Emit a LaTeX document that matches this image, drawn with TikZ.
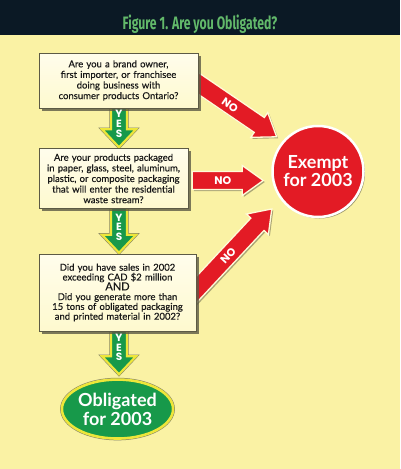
\documentclass[tikz,border=0pt]{standalone}
\usepackage{fontspec}
\setmainfont{Lato}
\newfontfamily\boxfont[FakeBold=0.35]{Lato}
\newfontfamily\titlefont[FakeStretch=0.68]{Fira Sans}
\newfontfamily\arrowfont{Poppins}
\usetikzlibrary{positioning,calc,shadows,shapes.geometric}
\definecolor{obPaper}{HTML}{FAF2A4}
\definecolor{obNight}{HTML}{0B1925}
\definecolor{obTitle}{HTML}{62B86A}
\definecolor{obCream}{HTML}{FFFBD9}
\definecolor{obRed}{HTML}{E31B25}
\definecolor{obGreen}{HTML}{17994A}
\definecolor{obLemon}{HTML}{EDE63A}
\definecolor{obEdge}{HTML}{5C5A45}
\pgfdeclarelayer{back}
\pgfsetlayers{back,main}
% fat arrow outline: #1 half shaft, #2 half head, #3 head length
\newcommand{\fatpath}[3]{($(\tikztostart)!#1pt!90:(\tikztotarget)$)
  -- ($(\tikztotarget)!{sqrt(#3*#3+#1*#1)*1pt}!{-atan(#1/#3)}:(\tikztostart)$)
  -- ($(\tikztotarget)!{sqrt(#3*#3+#2*#2)*1pt}!{-atan(#2/#3)}:(\tikztostart)$)
  -- (\tikztotarget)
  -- ($(\tikztotarget)!{sqrt(#3*#3+#2*#2)*1pt}!{atan(#2/#3)}:(\tikztostart)$)
  -- ($(\tikztotarget)!{sqrt(#3*#3+#1*#1)*1pt}!{atan(#1/#3)}:(\tikztostart)$)
  -- ($(\tikztostart)!#1pt!-90:(\tikztotarget)$) -- cycle}
\tikzset{
    qbox/.style={draw=obEdge, line width=0.5pt, top color=obCream!50!white, bottom color=obCream!80!obPaper, align=center, inner xsep=3pt, inner ysep=3pt, text=black!90, font=\boxfont\fontsize{9.5}{10.6}\selectfont, drop shadow={shadow xshift=2.5pt, shadow yshift=-2.5pt, fill=obEdge, opacity=0.8}},
    noarrow/.style={draw=obCream, line width=1.3pt, fill=obRed, to path={\fatpath{9}{15}{21}}, drop shadow={shadow xshift=1.5pt, shadow yshift=-1.5pt, fill=obEdge, opacity=0.5}},
    yesarrow/.style={draw=obLemon, line width=2.2pt, fill=obGreen, preaction={draw=obEdge!80, line width=3.2pt}, to path={\fatpath{8}{17}{18}}},
    notext/.style={text=white, font=\arrowfont\bfseries\fontsize{11}{11}\selectfont, sloped, inner sep=0pt},
    yestext/.style={text=white, font=\arrowfont\bfseries\fontsize{10.5}{9.8}\selectfont, align=center, inner sep=0pt},
    exempt/.style={circle, fill=obRed, draw=white, line width=2.5pt, minimum size=91pt, text=white, align=center, font=\bfseries\fontsize{18}{18}\selectfont, drop shadow={shadow xshift=1.5pt, shadow yshift=-1.5pt, fill=obEdge, opacity=0.6}},
    oblig/.style={ellipse, fill=obGreen, draw=obLemon, line width=2.6pt, preaction={draw=obEdge!80, line width=3.6pt}, minimum width=101pt, minimum height=59pt, inner sep=0pt, text=white, align=center, font=\bfseries\fontsize{18}{19}\selectfont}
}
\begin{document}
\begin{tikzpicture}[x=1pt, y=-1pt]
\useasboundingbox (0,0) rectangle (400,469);
\begin{pgfonlayer}{back}
    \fill[obPaper] (0,0) rectangle (400,469);
\end{pgfonlayer}
\fill[obNight] (0,0) rectangle (400,35);
\node[text=obTitle, font=\titlefont\bfseries\fontsize{18}{18}\selectfont] (title) at (200,24) {Figure 1. Are you Obligated?};

\node[qbox, text width=153pt, minimum height=55pt] (q1) at (118.5,80.5) {Are you a brand owner,\\first importer, or franchisee\\doing business with\\consumer products Ontario?};
\node[qbox, text width=143pt, minimum height=60pt, below=40pt of q1.south west, anchor=north west] (q2) {Are your products packaged\\in paper, glass, steel, aluminum,\\plastic, or composite packaging\\that will enter the residential\\waste stream?};
\node[qbox, text width=151pt, minimum height=77pt, font=\boxfont\fontsize{9.5}{9.8}\selectfont, below=45pt of q2.south west, anchor=north west] (q3) {Did you have sales in 2002\\exceeding CAD \$2 million\\{\fontsize{11}{10}\selectfont AND}\\Did you generate more than\\15 tons of obligated packaging\\and printed material in 2002?};
\node[oblig, below=47pt of q3] (oblig) {Obligated\\for 2003};
\node[exempt] (exempt) at (318,171.5) {Exempt\\for 2003};

\coordinate (yes1tail) at ($(q1.south)+(0.5,-4)$);
\coordinate (yes1tip) at ($(yes1tail |- q2.north)+(0,-1)$);
\coordinate (yes2tail) at ($(yes1tail |- q2.south)+(0,-4)$);
\coordinate (yes2tip) at ($(yes1tail |- q3.north)+(0,-1)$);
\coordinate (yes3tail) at ($(yes1tail |- q3.south)+(0,-4)$);
\coordinate (yes3tip) at ($(yes1tail |- oblig.north)+(0,-4)$);
\coordinate (no1tail) at ([shift={(-13,-6)}]q1.east);
\coordinate (no1tip) at ($(exempt)!54pt!(exempt.140)$);
\coordinate (no2tail) at ([shift={(4,2)}]q2.east);
\coordinate (no2tip) at ([xshift=-8pt]exempt.west |- no2tail);
\coordinate (no3tail) at ([shift={(-10,8)}]q3.east);
\coordinate (no3tip) at ($(exempt)!59.5pt!(exempt.219)$);

\begin{pgfonlayer}{back}
    \draw[yesarrow] (yes1tail) to (yes1tip); \draw[yesarrow] (yes2tail) to (yes2tip); \draw[yesarrow] (yes3tail) to (yes3tip);
    \draw[noarrow] (no1tail) to (no1tip); \draw[noarrow] (no2tail) to (no2tip); \draw[noarrow] (no3tail) to (no3tip);
\end{pgfonlayer}
\path (yes1tail) -- node[yestext, pos=.45] {Y\\E\\S} (yes1tip);
\path (yes2tail) -- node[yestext, pos=.47] {Y\\E\\S} (yes2tip);
\path (yes3tail) -- node[yestext, pos=.43] {Y\\E\\S} (yes3tip);
\path (no1tail) -- node[notext, pos=.49] {NO} (no1tip);
\path (no2tail) -- node[notext, pos=.43] {NO} (no2tip);
\path (no3tail) -- node[notext, pos=.49] {NO} (no3tip);
\end{tikzpicture}
\end{document}
